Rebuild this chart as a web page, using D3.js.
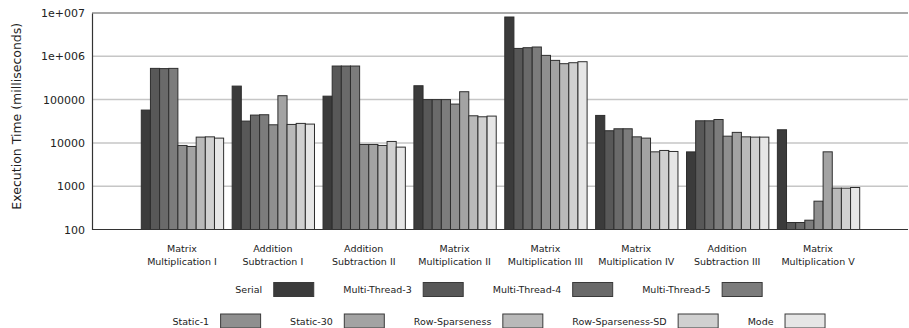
<!DOCTYPE html>
<html>
<head>
<meta charset="utf-8">
<script src="https://cdn.jsdelivr.net/npm/d3@7/dist/d3.min.js"></script>
<style>
  html, body { margin: 0; padding: 0; background: #fff; }
  svg { display: block; font-family: "DejaVu Sans", Verdana, sans-serif; }
</style>
</head>
<body>
<svg id="chart" width="909" height="328"></svg>
<script>
// Benchmark groups (two-line labels)
const categories = [
  ["Matrix", "Multiplication I"],
  ["Addition", "Subtraction I"],
  ["Addition", "Subtraction II"],
  ["Matrix", "Multiplication II"],
  ["Matrix", "Multiplication III"],
  ["Matrix", "Multiplication IV"],
  ["Addition", "Subtraction III"],
  ["Matrix", "Multiplication V"]
];

const seriesNames = ["Serial", "Multi-Thread-3", "Multi-Thread-4", "Multi-Thread-5",
  "Static-1", "Static-30", "Row-Sparseness", "Row-Sparseness-SD", "Mode"];

const seriesColors = ["#3b3b3b", "#585858", "#6a6a6a", "#7c7c7c",
  "#8f8f8f", "#a3a3a3", "#b9b9b9", "#d0d0d0", "#e6e6e6"];

// Execution time in milliseconds, one array per series (in category order)
const serial        = [57300, 205000, 120000, 209000, 8080000, 43100, 6200, 20100];
const multiThread3  = [526000, 31900, 596000, 100000, 1520000, 19100, 32400, 145];
const multiThread4  = [520000, 43900, 596000, 100000, 1580000, 21200, 32400, 145];
const multiThread5  = [526000, 44700, 596000, 100000, 1640000, 21200, 34700, 164];
const static1       = [8730, 26200, 9200, 78800, 1050000, 13800, 14300, 451];
const static30      = [8280, 123000, 9200, 152000, 805000, 12900, 17500, 6220];
const rowSparseness = [13600, 26700, 8730, 42300, 675000, 6220, 13800, 902];
const rowSparsenessSD = [13800, 28200, 10800, 40100, 711000, 6690, 13600, 900];
const mode          = [12900, 27200, 7990, 41600, 750000, 6340, 13600, 933];

const seriesValues = [serial, multiThread3, multiThread4, multiThread5,
  static1, static30, rowSparseness, rowSparsenessSD, mode];

const yTicks = [100, 1000, 10000, 100000, 1000000, 10000000];
const yTickLabels = ["100", "1000", "10000", "100000", "1e+006", "1e+007"];

const svg = d3.select("#chart");
const plot = { left: 92, right: 908, top: 13, bottom: 229.5 };

const x0 = d3.scaleBand()
  .domain(d3.range(categories.length))
  .range([plot.left, plot.right])
  .paddingInner(0.094)
  .paddingOuter(0.537);

const x1 = d3.scaleBand()
  .domain(d3.range(seriesNames.length))
  .range([0, x0.bandwidth()])
  .padding(0);

const y = d3.scaleLog()
  .domain([100, 10000000])
  .range([plot.bottom, plot.top]);

// Horizontal gridlines
svg.append("g")
  .selectAll("line")
  .data(yTicks.slice(1, -1))
  .join("line")
  .attr("x1", plot.left).attr("x2", plot.right)
  .attr("y1", d => y(d)).attr("y2", d => y(d))
  .attr("stroke", "#c6c6c6")
  .attr("stroke-width", 1.5);

// Top border
svg.append("line")
  .attr("x1", plot.left).attr("x2", plot.right)
  .attr("y1", y(10000000)).attr("y2", y(10000000))
  .attr("stroke", "#555").attr("stroke-width", 1.2);

// Bars
const groups = svg.append("g")
  .selectAll("g")
  .data(categories.map((c, i) => i))
  .join("g")
  .attr("transform", i => `translate(${x0(i)},0)`);

groups.selectAll("rect")
  .data(i => seriesValues.map((vals, s) => ({ s, v: vals[i] })))
  .join("rect")
  .attr("x", d => x1(d.s) + 0.5)
  .attr("width", x1.bandwidth())
  .attr("y", d => y(d.v))
  .attr("height", d => y(100) - y(d.v))
  .attr("fill", d => seriesColors[d.s])
  .attr("stroke", "#2e2e2e")
  .attr("stroke-width", 1);

// Y axis
const yAxis = d3.axisLeft(y)
  .tickValues(yTicks)
  .tickFormat((d, i) => yTickLabels[i])
  .tickSize(0)
  .tickPadding(7);

const yg = svg.append("g")
  .attr("transform", `translate(${plot.left},0)`)
  .call(yAxis);
yg.select(".domain").attr("stroke", "#333").attr("stroke-width", 1.2);
yg.selectAll("text")
  .attr("font-family", "DejaVu Sans")
  .attr("font-size", 11)
  .attr("fill", "#222");

// X axis baseline
svg.append("line")
  .attr("x1", plot.left).attr("x2", plot.right)
  .attr("y1", plot.bottom).attr("y2", plot.bottom)
  .attr("stroke", "#333").attr("stroke-width", 1.2);

// Category labels
const catLabels = svg.append("g")
  .selectAll("text")
  .data(categories.map((c, i) => ({ c, i })))
  .join("text")
  .attr("text-anchor", "middle")
  .attr("font-size", 9.5)
  .attr("fill", "#222")
  .attr("x", d => x0(d.i) + x0.bandwidth() / 2)
  .attr("y", 252);
catLabels.selectAll("tspan")
  .data(d => d.c.map(line => ({ line, x: x0(d.i) + x0.bandwidth() / 2 })))
  .join("tspan")
  .attr("x", d => d.x)
  .attr("dy", (d, k) => k === 0 ? 0 : 13)
  .text(d => d.line);

// Y axis title
svg.append("text")
  .attr("transform", `translate(21,${(plot.top + plot.bottom) / 2 - 5}) rotate(-90)`)
  .attr("text-anchor", "middle")
  .attr("font-size", 12.5)
  .attr("fill", "#222")
  .text("Execution Time (milliseconds)");

// Legend: two centred rows of "label  [swatch]" items
const legendRows = [
  { items: [0, 1, 2, 3], swatchY: 282.5, textY: 293 },
  { items: [4, 5, 6, 7, 8], swatchY: 314, textY: 325 }
];
const legendCenter = 498.5;
const swatchW = 40, swatchH = 14, textGap = 11, itemGap = 30;

legendRows.forEach(row => {
  const g = svg.append("g");
  const widths = row.items.map(s => {
    const t = g.append("text")
      .attr("font-size", 9.5)
      .text(seriesNames[s]);
    const w = t.node().getComputedTextLength();
    t.remove();
    return w;
  });
  const total = d3.sum(widths) + row.items.length * (textGap + swatchW) + (row.items.length - 1) * itemGap;
  let cx = legendCenter - total / 2;
  row.items.forEach((s, k) => {
    g.append("text")
      .attr("x", cx)
      .attr("y", row.textY)
      .attr("font-size", 9.5)
      .attr("fill", "#222")
      .text(seriesNames[s]);
    cx += widths[k] + textGap;
    g.append("rect")
      .attr("x", cx + 0.5)
      .attr("y", row.swatchY)
      .attr("width", swatchW)
      .attr("height", swatchH)
      .attr("fill", seriesColors[s])
      .attr("stroke", "#3a3a3a")
      .attr("stroke-width", 1);
    cx += swatchW + itemGap;
  });
});
</script>
</body>
</html>
